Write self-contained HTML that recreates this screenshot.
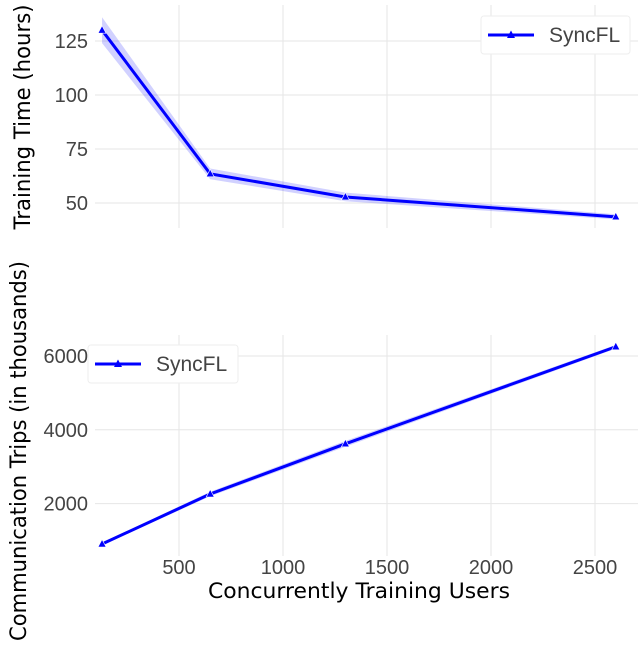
<!DOCTYPE html>
<html><head><meta charset="utf-8"><style>
body{margin:0;background:#fff;}
svg text{font-family:"Liberation Sans",sans-serif;}
svg text.title{font-family:"DejaVu Sans","Liberation Sans",sans-serif;}
</style></head><body>
<svg id="chart" width="638" height="640" xmlns="http://www.w3.org/2000/svg"></svg>
<script>
const xValues=[130,650,1300,2600];
const timeValues=[130,63.5,52.8,43.6];
const timeBand=[6,2.5,2,1.2];
const tripValues=[905,2260,3620,6250];
const tripBand=[40,60,80,50];
const xTicks=[500,1000,1500,2000,2500];
const timeTicks=[50,75,100,125];
const tripTicks=[2000,4000,6000];
const seriesName="SyncFL";

const svg=document.getElementById('chart');
const NS="http://www.w3.org/2000/svg";
function mk(tag,attrs,parent){const e=document.createElementNS(NS,tag);for(const k in attrs)e.setAttribute(k,attrs[k]);(parent||svg).appendChild(e);return e;}
const xs=v=>179+(v-500)*104/500;
const yTop=v=>203-(v-50)*54/25;
const yBot=v=>503.6-(v-2000)*73.8/2000;

function panel(name,ys,ticks,vals,band,gTop,gBot,legend){
  const g=mk('g',{});
  
  
  xTicks.forEach(t=>{const l=mk('line',{x1:xs(t),x2:xs(t),y1:gTop,y2:gBot,stroke:'#e6e6e6','stroke-width':1},g);
    });
  ticks.forEach(t=>{const l=mk('line',{x1:95,x2:638,y1:ys(t),y2:ys(t),stroke:'#e6e6e6','stroke-width':1},g);
    
    const tx=mk('text',{x:88,y:ys(t)+7,'text-anchor':'end','font-size':20,fill:'#444'},g);tx.textContent=t;
    });
  let up=vals.map((v,i)=>xs(xValues[i])+','+ys(v+band[i]));
  let dn=vals.map((v,i)=>xs(xValues[i])+','+ys(v-band[i])).reverse();
  const b=mk('polygon',{points:up.concat(dn).join(' '),fill:'#0000ff',opacity:0.18},g);
  
  const ln=mk('polyline',{points:vals.map((v,i)=>xs(xValues[i])+','+ys(v)).join(' '),fill:'none',stroke:'#0000ff','stroke-width':3},g);
  
  vals.forEach((v,i)=>{const x=xs(xValues[i]),y=ys(v);
    const m=mk('polygon',{points:`${x},${y-4.5} ${x-4},${y+3} ${x+4},${y+3}`,fill:'#0000ff',stroke:'#fff','stroke-width':0.6},g);
    });
  const lg=mk('g',{},g);
  
  mk('rect',{x:legend[0],y:legend[1],width:legend[2],height:38,rx:3,fill:'#fff',stroke:'#eee'},lg);
  mk('line',{x1:legend[0]+7,x2:legend[0]+53,y1:legend[1]+19,y2:legend[1]+19,stroke:'#0000ff','stroke-width':3},lg);
  const cx=legend[0]+30,cy=legend[1]+19;
  mk('polygon',{points:`${cx},${cy-4.5} ${cx-4},${cy+3} ${cx+4},${cy+3}`,fill:'#0000ff'},lg);
  const lt=mk('text',{x:legend[0]+68,y:legend[1]+26,'font-size':21,fill:'#444'},lg);lt.textContent=seriesName;
}
panel('training-time-panel',yTop,timeTicks,timeValues,timeBand,5,228,[481,16,149]);
panel('communication-trips-panel',yBot,tripTicks,tripValues,tripBand,335,556,[88,345,150]);
xTicks.forEach(t=>{const tx=mk('text',{x:xs(t),y:574,'text-anchor':'middle','font-size':20,fill:'#444'});tx.textContent=t;
  });
const xl=mk('text',{x:359,y:598,'text-anchor':'middle','font-size':21,fill:'#000','class':'title',textLength:302,lengthAdjust:'spacingAndGlyphs'});xl.textContent='Concurrently Training Users';

const y1=mk('text',{x:0,y:0,'text-anchor':'middle','font-size':22,fill:'#000','class':'title',textLength:225,lengthAdjust:'spacingAndGlyphs',transform:'translate(30,117) rotate(-90)'});y1.textContent='Training Time (hours)';

const y2=mk('text',{x:0,y:0,'text-anchor':'middle','font-size':22,fill:'#000','class':'title',textLength:380,lengthAdjust:'spacingAndGlyphs',transform:'translate(26,451) rotate(-90)'});y2.textContent='Communication Trips (in thousands)';

</script>
</body></html>
